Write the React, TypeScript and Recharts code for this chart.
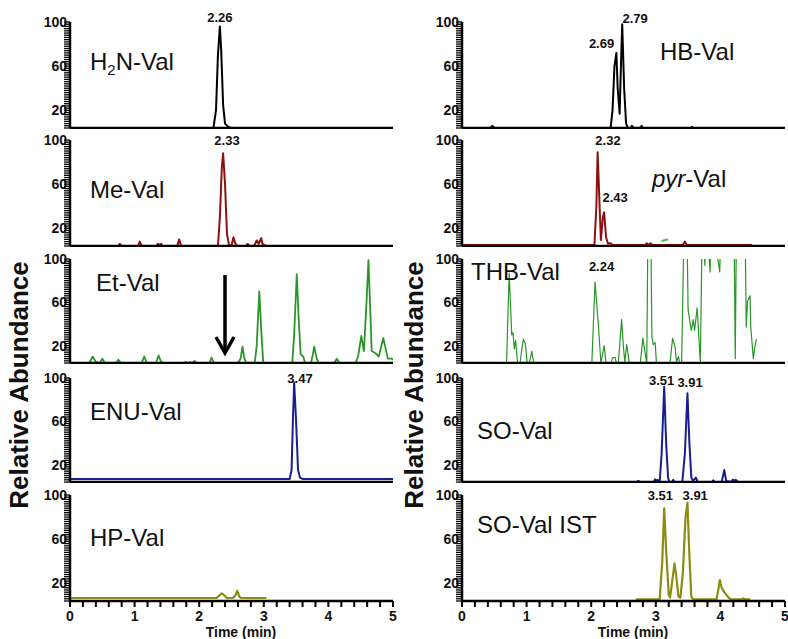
import React from "react";
import { LineChart, Line, XAxis, YAxis, ReferenceDot } from "recharts";

const FONT = '"Liberation Sans", Arial, Helvetica, sans-serif';

// [time (min), relative abundance (%)]
const h2nVal = [[0, 4], [2.22, 4], [2.26, 20], [2.29, 70], [2.32, 96], [2.34, 75], [2.37, 25], [2.4, 8], [2.45, 5], [2.49, 4], [5, 4]];
const meVal = [[0.75, 4], [0.77, 6], [0.8, 4], [1.05, 4], [1.08, 8], [1.11, 4], [1.34, 4], [1.36, 6], [1.38, 5], [1.41, 6], [1.43, 4], [1.66, 4], [1.69, 10], [1.72, 4], [2.29, 4], [2.32, 30], [2.35, 75], [2.37, 88], [2.4, 60], [2.43, 15], [2.46, 5], [2.5, 4], [2.53, 12], [2.56, 6], [2.6, 4], [2.72, 4], [2.75, 6], [2.78, 4], [2.85, 4], [2.89, 9], [2.92, 6], [2.96, 11], [2.98, 6], [3.04, 4]];
const etVal = [[0, 4], [0.3, 4], [0.35, 10], [0.4, 5], [0.46, 4], [0.5, 8], [0.54, 4], [0.71, 4], [0.75, 7], [0.79, 4], [1.11, 4], [1.15, 10], [1.19, 4], [1.33, 4], [1.37, 11], [1.41, 5], [1.45, 4], [1.76, 4], [1.79, 5], [1.83, 4], [1.86, 5], [1.89, 4], [1.93, 6], [1.96, 4], [2.16, 4], [2.19, 9], [2.23, 4], [2.6, 4], [2.64, 8], [2.67, 19], [2.7, 8], [2.73, 4], [2.86, 4], [2.89, 20], [2.93, 70], [2.96, 35], [2.99, 5], [3.02, 4], [3.44, 4], [3.47, 30], [3.51, 86], [3.54, 45], [3.57, 12], [3.61, 10], [3.64, 4], [3.73, 4], [3.76, 12], [3.78, 19], [3.82, 8], [3.85, 4], [4.09, 4], [4.13, 8], [4.17, 4], [4.42, 4], [4.46, 10], [4.51, 29], [4.55, 15], [4.59, 60], [4.62, 99], [4.65, 50], [4.67, 15], [4.73, 13], [4.78, 10], [4.85, 27], [4.92, 8], [4.98, 8], [5, 7]];
const enuVal = [[0, 6.8], [3.4, 6.8], [3.43, 15], [3.45, 60], [3.47, 96], [3.5, 60], [3.53, 15], [3.56, 8], [3.6, 6.8], [5, 6.8]];
const hpVal = [[0, 6.7], [2.27, 6.7], [2.31, 9], [2.35, 11], [2.39, 9], [2.43, 6.7], [2.52, 6.7], [2.56, 9], [2.59, 13.3], [2.62, 8], [2.65, 6.7], [3.04, 6.7]];
const hbVal = [[0, 4], [0.44, 4], [0.47, 6], [0.5, 4], [2.3, 4], [2.33, 20], [2.36, 60], [2.39, 72], [2.41, 40], [2.44, 17], [2.46, 60], [2.48, 98], [2.51, 40], [2.54, 8], [2.57, 4], [2.61, 4], [2.63, 6], [2.66, 4], [2.76, 4], [2.78, 6], [2.8, 4], [3.54, 4], [3.56, 5], [3.58, 4], [5, 4]];
const pyrVal = [[0, 5], [2.05, 5], [2.08, 40], [2.1, 89], [2.13, 40], [2.15, 9.4], [2.18, 30], [2.2, 34.5], [2.23, 12], [2.26, 6], [2.3, 6.5], [2.33, 5], [2.84, 5], [2.86, 6.5], [2.88, 5], [2.92, 6.5], [2.94, 5], [3.42, 5], [3.45, 8], [3.48, 5], [4.49, 5]];
const pyrStray = [[3.09, 8.5], [3.19, 10]];
const thbVal = [[0, 4], [0.69, 4], [0.73, 87], [0.77, 30], [0.79, 32], [0.81, 17], [0.83, 25], [0.86, 4], [0.9, 4], [0.92, 14], [0.95, 26], [0.98, 22], [1.01, 4], [1.04, 4], [1.06, 9], [1.08, 15], [1.11, 4], [2.01, 4], [2.06, 79], [2.11, 40], [2.15, 4], [2.2, 20], [2.23, 4], [2.31, 4], [2.33, 9], [2.37, 9], [2.39, 4], [2.42, 4], [2.47, 44], [2.5, 18], [2.52, 5], [2.55, 21], [2.59, 4], [2.76, 4], [2.8, 27], [2.83, 15], [2.86, 4], [2.88, 140], [2.92, 140], [2.94, 28], [2.96, 21], [2.99, 23], [3.01, 4], [3.22, 4], [3.26, 27], [3.3, 18], [3.32, 5], [3.35, 10], [3.37, 4], [3.4, 4], [3.44, 140], [3.48, 140], [3.5, 53], [3.55, 34], [3.58, 44], [3.6, 34], [3.64, 55], [3.69, 4], [3.72, 140], [3.76, 94], [3.78, 140], [3.84, 88], [3.86, 140], [3.99, 88], [4.01, 140], [4.21, 140], [4.23, 8], [4.25, 140], [4.38, 140], [4.4, 37], [4.42, 61], [4.46, 66], [4.47, 37], [4.51, 8], [4.53, 18], [4.56, 26]];
const soVal = [[2.7, 4], [2.73, 5], [2.76, 4], [2.97, 4], [2.99, 6.5], [3.01, 5], [3.03, 6], [3.06, 4], [3.09, 30], [3.13, 92], [3.16, 40], [3.19, 8], [3.21, 4], [3.25, 4], [3.27, 6], [3.29, 4], [3.41, 4], [3.45, 30], [3.49, 86], [3.52, 40], [3.55, 8], [3.58, 5], [3.62, 8], [3.65, 4], [3.87, 4], [3.89, 5.5], [3.91, 4], [4.02, 4], [4.06, 15], [4.09, 5], [4.17, 4], [4.19, 6], [4.22, 5.5], [4.24, 6], [4.27, 4], [4.3, 4]];
const soValIst = [[2.69, 5.5], [3.06, 5.5], [3.1, 40], [3.13, 88], [3.16, 50], [3.2, 10], [3.22, 7], [3.25, 20], [3.29, 38], [3.32, 25], [3.35, 8], [3.38, 7], [3.42, 30], [3.46, 80], [3.49, 93], [3.52, 45], [3.55, 8], [3.58, 5.5], [3.94, 5.5], [3.97, 15], [3.99, 23], [4.02, 16], [4.06, 12], [4.12, 7.5], [4.16, 5.5], [4.34, 5.5], [4.36, 6.5], [4.38, 5.5], [4.46, 5.5]];

// peak annotations: [time, abundance at label centre, text]
const h2nPeaks = [[2.32, 104.5, "2.26"]];
const mePeaks = [[2.43, 100, "2.33"]];
const enuPeaks = [[3.56, 100, "3.47"]];
const hbPeaks = [[2.16, 81, "2.69"], [2.68, 103.6, "2.79"]];
const pyrPeaks = [[2.26, 100, "2.32"], [2.37, 48.4, "2.43"]];
const thbPeaks = [[2.16, 92.9, "2.24"]];
const soPeaks = [[3.09, 98.2, "3.51"], [3.53, 95.5, "3.91"]];
const istPeaks = [[3.07, 100, "3.51"], [3.61, 100, "3.91"]];

const yMajor = [20, 60, 100];
const xMajor = [0, 1, 2, 3, 4, 5];

const yTicks: number[] = [];
for (let v = 4; v <= 100; v += 2) yTicks.push(v);
const xTicks: number[] = [];
for (let i = 0; i <= 25; i++) xTicks.push(i / 5);

const rows = [
  { top: 22, bottom: 128 },
  { top: 140, bottom: 246 },
  { top: 259, bottom: 363 },
  { top: 378, bottom: 482 },
  { top: 495, bottom: 601 },
];
const colX = [70, 462];
const PLOT_W = 323;
const Y_W = 40;
const M_TOP = 16;
const M_RIGHT = 12;

const toPts = (arr: number[][]) => arr.map(([t, v]) => ({ t, v }));

function YLabel({ x, y, payload }: any) {
  if (!yMajor.includes(payload.value)) return <g />;
  return (
    <text x={x + 3} y={y + 5} textAnchor="end" fontSize={14} fontWeight="bold" fontFamily={FONT} fill="#111">
      {payload.value}
    </text>
  );
}

function XLabel({ x, y, payload }: any) {
  if (!xMajor.includes(payload.value)) return <g />;
  return (
    <text x={x} y={y + 14} textAnchor="middle" fontSize={14} fontWeight="bold" fontFamily={FONT} fill="#111">
      {payload.value}
    </text>
  );
}

function Panel({ col, row, trace, color, width, peaks, extra }: any) {
  const r = rows[row];
  const last = row === rows.length - 1;
  const plotH = r.bottom - r.top;
  const xH = last ? 30 : 1;
  return (
    <div style={{ position: "absolute", left: colX[col] - Y_W, top: r.top - M_TOP }}>
      <LineChart
        width={Y_W + PLOT_W + M_RIGHT}
        height={M_TOP + plotH + xH}
        data={toPts(trace)}
        margin={{ top: M_TOP, right: M_RIGHT, bottom: 0, left: 0 }}
      >
        <XAxis
          dataKey="t"
          type="number"
          domain={[0, 5]}
          allowDataOverflow
          ticks={last ? xTicks : []}
          interval={0}
          tick={last ? <XLabel /> : false}
          tickLine={last ? { stroke: "#000", strokeWidth: 2 } : false}
          tickSize={6}
          tickMargin={0}
          height={xH}
          axisLine={{ stroke: "#000", strokeWidth: 2.5 }}
        />
        <YAxis
          type="number"
          domain={[4, 100]}
          allowDataOverflow
          ticks={yTicks}
          interval={0}
          tick={<YLabel />}
          tickLine={{ stroke: "#000", strokeWidth: 1.3 }}
          tickSize={6}
          tickMargin={0}
          width={Y_W}
          axisLine={{ stroke: "#000", strokeWidth: 2.5 }}
        />
        <Line
          dataKey="v"
          type="linear"
          stroke={color}
          strokeWidth={width}
          dot={false}
          isAnimationActive={false}
          strokeLinejoin="round"
        />
        {extra && (
          <Line
            data={toPts(extra.trace)}
            dataKey="v"
            type="linear"
            stroke={extra.color}
            strokeWidth={2}
            dot={false}
            isAnimationActive={false}
          />
        )}
        {(peaks || []).map(([t, v, text]: any, i: number) => (
          <ReferenceDot
            key={i}
            x={t}
            y={v}
            r={0}
            ifOverflow="visible"
            fill="none"
            stroke="none"
            label={{ value: text, position: "center", fill: "#111", fontSize: 13, fontWeight: "bold", fontFamily: FONT }}
          />
        ))}
      </LineChart>
    </div>
  );
}

const BLACK = "#000000";
const RED = "#8c1111";
const GREEN = "#2a962a";
const NAVY = "#17208e";
const OLIVE = "#8c8c12";

export default function App() {
  const nameStyle = { fontSize: 24, fontFamily: FONT, fill: "#111" } as const;
  return (
    <div style={{ position: "absolute", left: 0, top: 0, width: 788, height: 639, background: "#fff", overflow: "hidden" }}>
      <Panel col={0} row={0} trace={h2nVal} color={BLACK} width={2} peaks={h2nPeaks} />
      <Panel col={0} row={1} trace={meVal} color={RED} width={2} peaks={mePeaks} />
      <Panel col={0} row={2} trace={etVal} color={GREEN} width={1.8} />
      <Panel col={0} row={3} trace={enuVal} color={NAVY} width={2} peaks={enuPeaks} />
      <Panel col={0} row={4} trace={hpVal} color={OLIVE} width={2.2} />
      <Panel col={1} row={0} trace={hbVal} color={BLACK} width={2} peaks={hbPeaks} />
      <Panel col={1} row={1} trace={pyrVal} color={RED} width={2} peaks={pyrPeaks} extra={{ trace: pyrStray, color: "#3cc03c" }} />
      <Panel col={1} row={2} trace={thbVal} color={GREEN} width={1.2} peaks={thbPeaks} />
      <Panel col={1} row={3} trace={soVal} color={NAVY} width={2} peaks={soPeaks} />
      <Panel col={1} row={4} trace={soValIst} color={OLIVE} width={2.2} peaks={istPeaks} />

      <svg width={788} height={639} style={{ position: "absolute", left: 0, top: 0, pointerEvents: "none" }}>
        <text x={90} y={70} {...nameStyle}>
          H<tspan fontSize={15} dy={5}>2</tspan>
          <tspan dy={-5}>N-Val</tspan>
        </text>
        <text x={90} y={198} {...nameStyle}>Me-Val</text>
        <text x={96} y={291} {...nameStyle}>Et-Val</text>
        <text x={90} y={420} {...nameStyle}>ENU-Val</text>
        <text x={90} y={546} {...nameStyle}>HP-Val</text>
        <text x={660} y={60} {...nameStyle}>HB-Val</text>
        <text x={652} y={187} {...nameStyle}>
          <tspan fontStyle="italic">pyr</tspan>-Val
        </text>
        <text x={471} y={280} {...nameStyle}>THB-Val</text>
        <text x={477} y={439} {...nameStyle}>SO-Val</text>
        <text x={477} y={533} {...nameStyle}>SO-Val IST</text>

        <line x1={225} y1={275} x2={225} y2={350} stroke="#000" strokeWidth={3.5} />
        <polyline points="216,337 225,353 234,337" fill="none" stroke="#000" strokeWidth={3.5} />

        <text x={28} y={385} transform="rotate(-90 28 385)" textAnchor="middle" fontSize={26} fontWeight="bold" fontFamily={FONT} fill="#111">
          Relative Abundance
        </text>
        <text x={423} y={385} transform="rotate(-90 423 385)" textAnchor="middle" fontSize={26} fontWeight="bold" fontFamily={FONT} fill="#111">
          Relative Abundance
        </text>
        <text x={241} y={637} textAnchor="middle" fontSize={14} fontWeight="bold" fontFamily={FONT} fill="#111">
          Time (min)
        </text>
        <text x={633} y={637} textAnchor="middle" fontSize={14} fontWeight="bold" fontFamily={FONT} fill="#111">
          Time (min)
        </text>
      </svg>
    </div>
  );
}
